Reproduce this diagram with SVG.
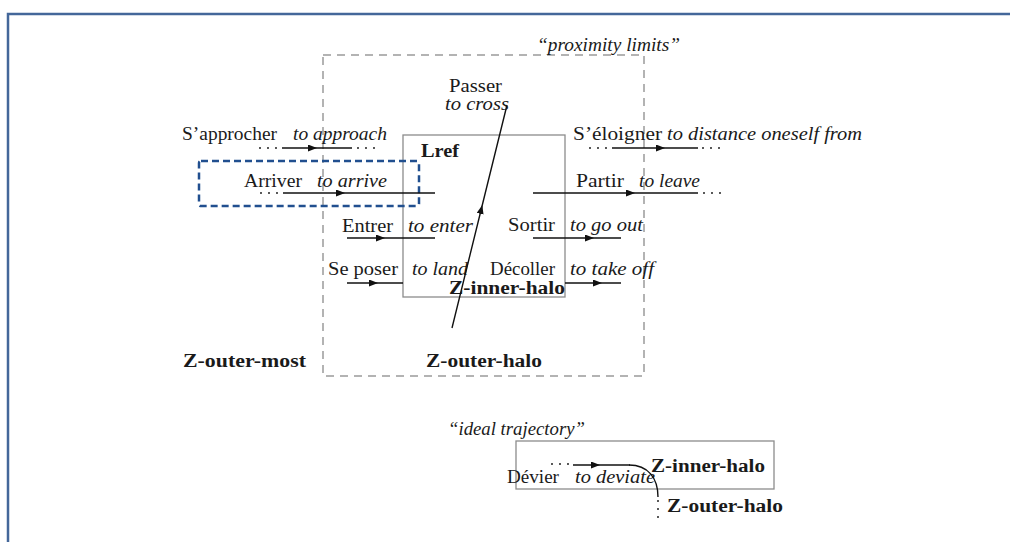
<svg xmlns="http://www.w3.org/2000/svg" width="1010" height="542" viewBox="0 0 1010 542">
<defs>
<marker id="ah" markerUnits="userSpaceOnUse" markerWidth="10" markerHeight="8" refX="9" refY="3.5" orient="auto">
<path d="M0,0 L9,3.5 L0,7 z" fill="#111"/>
</marker>
<style>
text{font-family:"Liberation Serif","DejaVu Serif",serif;font-size:18px;fill:#1a1a1a}
.it{font-style:italic}
.b{font-weight:bold}
.ln{fill:none;stroke:#111;stroke-width:1.4;marker-mid:url(#ah)}
.pl{fill:none;stroke:#111;stroke-width:1.4}
.dt{fill:none;stroke:#222;stroke-width:2;stroke-linecap:round;stroke-dasharray:0 8}
.box{fill:none;stroke:#8c8c8c;stroke-width:1.3}
</style>
</defs>
<rect x="0" y="0" width="1010" height="542" fill="#fff"/>
<rect id="frame" x="8" y="14" width="1020" height="560" fill="none" stroke="#44679a" stroke-width="2.5"/>

<g id="proximity-limits">
<rect x="323" y="55" width="321" height="321" fill="none" stroke="#9a9a9a" stroke-width="1.5" stroke-dasharray="8 6"/>
<text class="it" x="537" y="51" textLength="143" lengthAdjust="spacingAndGlyphs">“proximity limits”</text>
</g>

<g id="lref">
<rect class="box" x="403" y="135" width="162" height="162"/>
<text class="b" x="421" y="157" textLength="38" lengthAdjust="spacingAndGlyphs">Lref</text>
<text class="b" x="449" y="294" textLength="116" lengthAdjust="spacingAndGlyphs">Z-inner-halo</text>
</g>

<g id="arriver-highlight">
<rect x="199" y="161" width="220" height="45" rx="2" fill="none" stroke="#214f8f" stroke-width="2.5" stroke-dasharray="7 4"/>
</g>

<g id="labels">
<text x="449" y="92" textLength="53" lengthAdjust="spacingAndGlyphs">Passer</text>
<text class="it" x="445" y="110" textLength="64" lengthAdjust="spacingAndGlyphs">to cross</text>
<text x="182" y="140" textLength="95" lengthAdjust="spacingAndGlyphs">S’approcher</text>
<text class="it" x="293" y="140" textLength="94" lengthAdjust="spacingAndGlyphs">to approach</text>
<text x="573" y="140" textLength="89" lengthAdjust="spacingAndGlyphs">S’éloigner</text>
<text class="it" x="667" y="140" textLength="195" lengthAdjust="spacingAndGlyphs">to distance oneself from</text>
<text x="244" y="187" textLength="58" lengthAdjust="spacingAndGlyphs">Arriver</text>
<text class="it" x="317" y="187" textLength="70" lengthAdjust="spacingAndGlyphs">to arrive</text>
<text x="576" y="187" textLength="48" lengthAdjust="spacingAndGlyphs">Partir</text>
<text class="it" x="639" y="187" textLength="61" lengthAdjust="spacingAndGlyphs">to leave</text>
<text x="342" y="232" textLength="51" lengthAdjust="spacingAndGlyphs">Entrer</text>
<text class="it" x="408" y="232" textLength="65" lengthAdjust="spacingAndGlyphs">to enter</text>
<text x="508" y="231" textLength="47" lengthAdjust="spacingAndGlyphs">Sortir</text>
<text class="it" x="570" y="231" textLength="73" lengthAdjust="spacingAndGlyphs">to go out</text>
<text x="328" y="275" textLength="70" lengthAdjust="spacingAndGlyphs">Se poser</text>
<text class="it" x="412" y="275" textLength="56" lengthAdjust="spacingAndGlyphs">to land</text>
<text x="490" y="275" textLength="65" lengthAdjust="spacingAndGlyphs">Décoller</text>
<text class="it" x="570" y="275" textLength="84" lengthAdjust="spacingAndGlyphs">to take off</text>
<text class="b" x="183" y="367" textLength="123" lengthAdjust="spacingAndGlyphs">Z-outer-most</text>
<text class="b" x="426" y="367" textLength="116" lengthAdjust="spacingAndGlyphs">Z-outer-halo</text>
</g>

<g id="ideal-trajectory">
<text class="it" x="448" y="435" textLength="137" lengthAdjust="spacingAndGlyphs">“ideal trajectory”</text>
<rect class="box" x="516" y="441" width="258" height="48"/>
<text class="b" x="651" y="472" textLength="114" lengthAdjust="spacingAndGlyphs">Z-inner-halo</text>
<text x="507" y="483" textLength="52" lengthAdjust="spacingAndGlyphs">Dévier</text>
<text class="it" x="575" y="483" textLength="80" lengthAdjust="spacingAndGlyphs">to deviate</text>
<text class="b" x="667" y="512" textLength="116" lengthAdjust="spacingAndGlyphs">Z-outer-halo</text>
</g>

<g id="connectors">
<path class="dt" d="M260,148 L277,148"/>
<path class="ln" d="M282,148 L317,148 L352,148"/>
<path class="dt" d="M358,148 L375,148"/>
<path class="dt" d="M590,148 L607,148"/>
<path class="ln" d="M612,148 L665,148 L698,148"/>
<path class="dt" d="M703,148 L720,148"/>
<path class="dt" d="M261,193 L278,193"/>
<path class="ln" d="M283,193 L345,193 L435,193"/>
<path class="ln" d="M533,193 L635,193 L698,193"/>
<path class="dt" d="M704,193 L721,193"/>
<path class="ln" d="M347,238 L385,238 L435,238"/>
<path class="ln" d="M533,238 L594,238 L621,238"/>
<path class="ln" d="M347,283 L378,283 L403,283"/>
<path class="ln" d="M565,283 L602,283 L621,283"/>
<path class="ln" d="M452,328 L482.3,205 L507,105"/>
<path class="dt" d="M552,464 L569,464"/>
<path class="ln" d="M573,465 L600,465 L630,465"/>
<path class="pl" d="M629,465 C648,465 658,478 658,497"/>
<path class="dt" d="M658,501 L658,518"/>
</g>
</svg>
